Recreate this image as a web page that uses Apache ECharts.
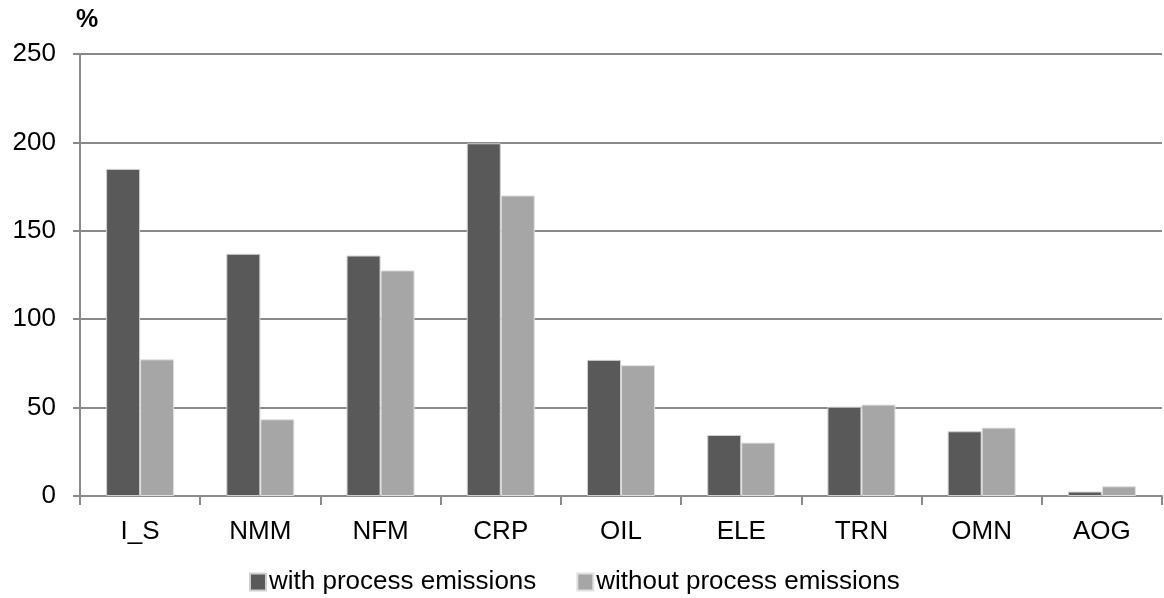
<!DOCTYPE html>
<html>
<head>
<meta charset="utf-8">
<script src="https://cdn.jsdelivr.net/npm/echarts@6/dist/echarts.min.js"></script>
<style>
  html, body { margin: 0; padding: 0; background: #fff; }
  #chart { width: 1164px; height: 598px; }
</style>
</head>
<body>
<div id="chart"></div>
<script>
// Sectors and index values (%)
const sectors = ['I_S', 'NMM', 'NFM', 'CRP', 'OIL', 'ELE', 'TRN', 'OMN', 'AOG'];
const withProcess = [185, 137, 136, 199.5, 77, 34.5, 50.5, 36.6, 2.5];
const withoutProcess = [77.3, 43.4, 127.6, 170, 74, 30.2, 51.7, 38.7, 5.5];
const yTicks = { min: 0, max: 250, interval: 50 };

const FONT = '"Liberation Sans", Arial, sans-serif';
const AXIS_GREY = '#8a8a8a';

const chart = echarts.init(document.getElementById('chart'));
chart.setOption({
  animation: false,
  backgroundColor: '#ffffff',
  textStyle: { fontFamily: FONT, color: '#000' },
  title: {
    text: '%',
    left: 71,
    top: 3,
    textStyle: { fontFamily: FONT, fontSize: 25, fontWeight: 'bold', color: '#000' }
  },
  grid: { left: 80, right: 2, top: 54, bottom: 102, containLabel: false },
  legend: {
    top: 564,
    left: 244,
    itemWidth: 16,
    itemHeight: 17,
    itemGap: 40,
    icon: 'rect',
    textStyle: { fontFamily: FONT, fontSize: 26, color: '#000', padding: [0, 0, 0, -2] },
    data: ['with process emissions', 'without process emissions']
  },
  xAxis: {
    type: 'category',
    data: sectors,
    axisLine: { lineStyle: { color: AXIS_GREY, width: 2 } },
    axisTick: { show: true, length: 9, inside: false, lineStyle: { color: AXIS_GREY, width: 2 } },
    axisLabel: { fontFamily: FONT, fontSize: 26, color: '#000', margin: 23 },
    splitLine: { show: false }
  },
  yAxis: {
    type: 'value',
    min: yTicks.min,
    max: yTicks.max,
    interval: yTicks.interval,
    axisLine: { show: true, lineStyle: { color: AXIS_GREY, width: 2 } },
    axisTick: { show: true, length: 7, lineStyle: { color: AXIS_GREY, width: 2 } },
    axisLabel: { fontFamily: FONT, fontSize: 26, color: '#000', margin: 24 },
    splitLine: { show: true, lineStyle: { color: AXIS_GREY, width: 2 } }
  },
  series: [
    {
      name: 'with process emissions',
      type: 'bar',
      data: withProcess,
      barWidth: 34,
      barGap: '0%',
      itemStyle: { color: '#595959', borderColor: '#cfcfcf', borderWidth: 1 }
    },
    {
      name: 'without process emissions',
      type: 'bar',
      data: withoutProcess,
      barWidth: 34,
      barGap: '0%',
      itemStyle: { color: '#a6a6a6', borderColor: '#e0e0e0', borderWidth: 1 }
    }
  ]
});
</script>
</body>
</html>
